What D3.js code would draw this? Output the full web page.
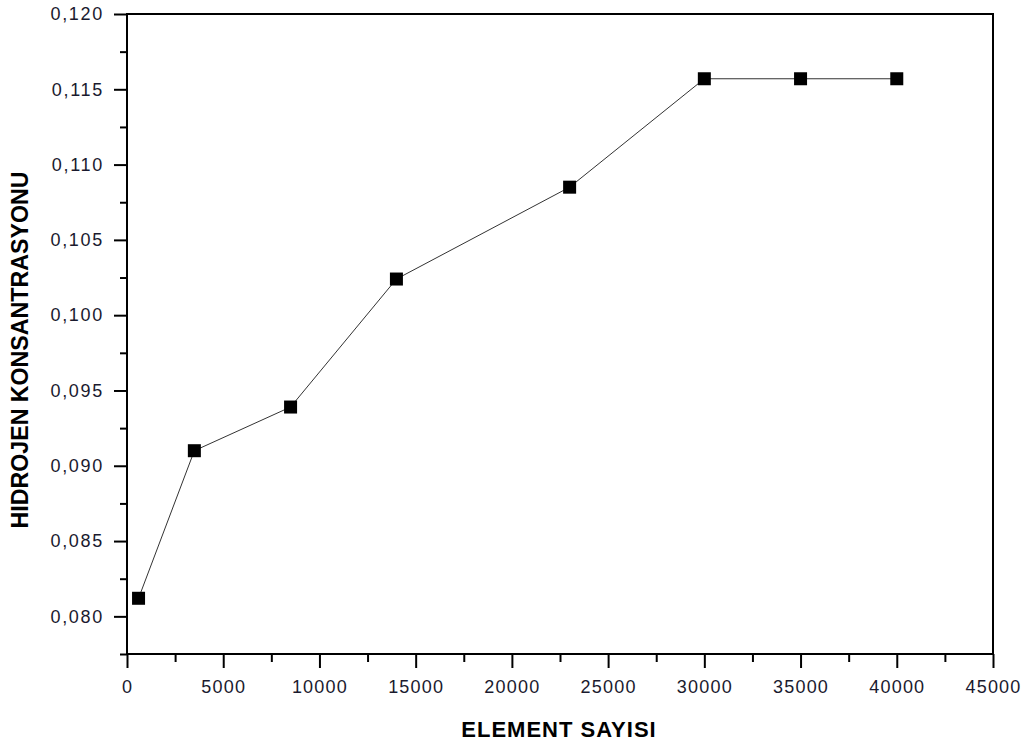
<!DOCTYPE html>
<html><head><meta charset="utf-8">
<script src="https://cdn.jsdelivr.net/npm/d3@7"></script>
<style>body{margin:0;background:#fff}svg{display:block}</style>
</head><body>
<script>
const elementCounts = [600, 3500, 8500, 14000, 23000, 30000, 35000, 40000];
const hydrogenConc = [0.0812, 0.0910, 0.0939, 0.1024, 0.1085, 0.1157, 0.1157, 0.1157];
const xTicks = [0, 5000, 10000, 15000, 20000, 25000, 30000, 35000, 40000, 45000];
const yTicks = [0.080, 0.085, 0.090, 0.095, 0.100, 0.105, 0.110, 0.115, 0.120];
const xTitle = "ELEMENT SAYISI";
const yTitle = "HIDROJEN KONSANTRASYONU";

const W = 1036, H = 751;
const L = 127, R = 993, T = 14, B = 654;
const svg = d3.select("body").append("svg").attr("width", W).attr("height", H);
const x = d3.scaleLinear().domain([0, 45000]).range([L, R]);
const y = d3.scaleLinear().domain([0.0775, 0.120]).range([B, T]);
const font = "Arial, 'Liberation Sans', sans-serif";

// frame
svg.append("rect").attr("x", L).attr("y", T).attr("width", R - L).attr("height", B - T)
  .attr("fill", "none").attr("stroke", "#000").attr("stroke-width", 2);

// x axis
const xMinor = d3.range(2500, 45000, 5000);
const xAxis = svg.append("g").attr("transform", `translate(0,${B})`);
xAxis.call(d3.axisBottom(x).tickValues(xTicks).tickFormat(d3.format("d")).tickSize(14).tickPadding(12));
xAxis.append("g").call(d3.axisBottom(x).tickValues(xMinor).tickFormat("").tickSize(8));
xAxis.selectAll(".domain").remove();
xAxis.selectAll("line").attr("stroke", "#000").attr("stroke-width", 2);
xAxis.selectAll("text").attr("font-family", font).attr("font-size", 18)
  .attr("letter-spacing", 1.2).attr("fill", "#1a1a2e");

// y axis
const yMinor = d3.range(0.0775, 0.1201, 0.005).map(v => +v.toFixed(4));
const yAxis = svg.append("g").attr("transform", `translate(${L},0)`);
yAxis.call(d3.axisLeft(y).tickValues(yTicks).tickFormat(d => d3.format(".3f")(d).replace(".", ",")).tickSize(13).tickPadding(10));
yAxis.append("g").call(d3.axisLeft(y).tickValues(yMinor).tickFormat("").tickSize(7));
yAxis.selectAll(".domain").remove();
yAxis.selectAll("line").attr("stroke", "#000").attr("stroke-width", 2);
yAxis.selectAll("text").attr("font-family", font).attr("font-size", 18)
  .attr("letter-spacing", 1.7).attr("fill", "#1a1a2e");

// titles
svg.append("text").attr("x", 559).attr("y", 737).attr("text-anchor", "middle")
  .attr("font-family", font).attr("font-weight", "bold").attr("font-size", 22)
  .attr("letter-spacing", 1).text(xTitle);
svg.append("text").attr("transform", `translate(28,350) rotate(-90)`).attr("text-anchor", "middle")
  .attr("font-family", font).attr("font-weight", "bold").attr("font-size", 23.2).text(yTitle);

const data = elementCounts.map((v, i) => ({x: v, y: hydrogenConc[i]}));
svg.append("path").datum(data)
  .attr("d", d3.line().x(d => x(d.x)).y(d => y(d.y)))
  .attr("fill", "none").attr("stroke", "#333").attr("stroke-width", 1);
const s = 13;
svg.selectAll("rect.pt").data(data).join("rect").attr("class", "pt")
  .attr("x", d => x(d.x) - s / 2).attr("y", d => y(d.y) - s / 2)
  .attr("width", s).attr("height", s).attr("fill", "#000");
</script>
</body></html>
